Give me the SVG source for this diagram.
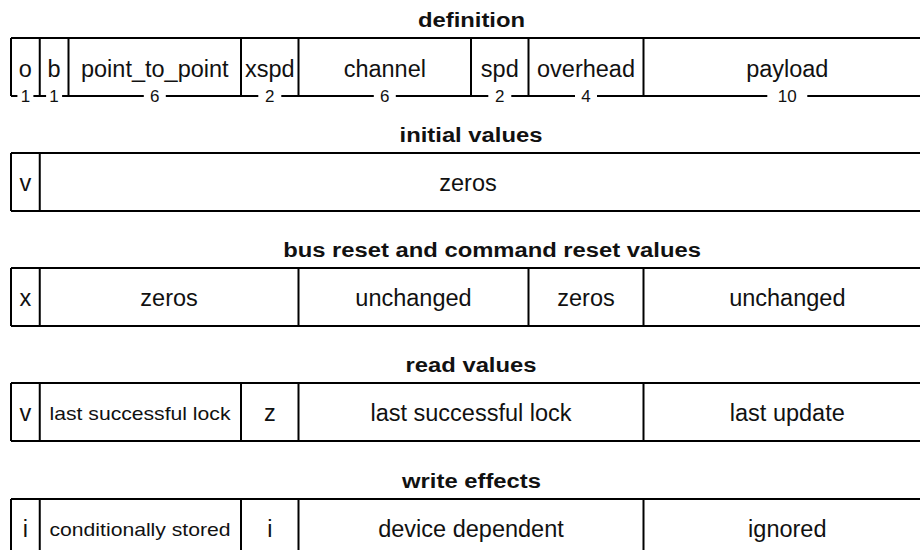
<svg xmlns="http://www.w3.org/2000/svg" width="920" height="550" viewBox="0 0 920 550">
<style>
.ln{stroke:#000;stroke-width:2;fill:none}
.t{font-family:"Liberation Sans",Arial,sans-serif;font-size:23.5px;text-anchor:middle;fill:#111}
.s{font-family:"Liberation Sans",Arial,sans-serif;font-size:18.5px;text-anchor:middle;fill:#111}
.h{font-family:"Liberation Sans",Arial,sans-serif;font-size:20px;font-weight:bold;text-anchor:middle;fill:#111}
.n{font-family:"Liberation Sans",Arial,sans-serif;font-size:17px;text-anchor:middle;fill:#111}
</style>
<rect width="920" height="550" fill="#fff"/>
<g id="definition">
<text class="h" transform="translate(471.5,27) scale(1.19,1)">definition</text>
<path class="ln" d="M11,38 H931 M11,38 V96 M39.75,38 V96 M68.5,38 V96 M241,38 V96 M298.5,38 V96 M471,38 V96 M528.5,38 V96 M643.5,38 V96"/>
<path class="ln" d="M11,96 H17.4 M33.4,96 H46.1 M62.1,96 H143.8 M165.8,96 H258.3 M281.3,96 H373.8 M395.8,96 H488.3 M511.3,96 H575 M597,96 H767.3 M807.3,96 H931"/>
<text class="t" x="25.4" y="77">o</text>
<text class="t" x="54.1" y="77">b</text>
<text class="t" x="154.8" y="77">point_to_point</text>
<text class="t" x="269.8" y="77">xspd</text>
<text class="t" x="384.8" y="77">channel</text>
<text class="t" x="499.8" y="77">spd</text>
<text class="t" x="586" y="77">overhead</text>
<text class="t" x="787.3" y="77">payload</text>
<text class="n" x="25.4" y="102">1</text>
<text class="n" x="54.1" y="102">1</text>
<text class="n" x="154.8" y="102">6</text>
<text class="n" x="269.8" y="102">2</text>
<text class="n" x="384.8" y="102">6</text>
<text class="n" x="499.8" y="102">2</text>
<text class="n" x="586" y="102">4</text>
<text class="n" x="787.3" y="102">10</text>
</g>
<g id="initial">
<text class="h" transform="translate(471,142) scale(1.19,1)">initial values</text>
<path class="ln" d="M11,153 H931 M11,211 H931 M11,153 V211 M39.75,153 V211"/>
<text class="t" x="25.4" y="191">v</text>
<text class="t" x="468" y="191">zeros</text>
</g>
<g id="busreset">
<text class="h" transform="translate(492,257) scale(1.19,1)">bus reset and command reset values</text>
<path class="ln" d="M11,268 H931 M11,326 H931 M11,268 V326 M39.75,268 V326 M298.5,268 V326 M528.5,268 V326 M643.5,268 V326"/>
<text class="t" x="25.4" y="306">x</text>
<text class="t" x="169.1" y="306">zeros</text>
<text class="t" x="413.5" y="306">unchanged</text>
<text class="t" x="586" y="306">zeros</text>
<text class="t" x="787.3" y="306">unchanged</text>
</g>
<g id="read">
<text class="h" transform="translate(471,372) scale(1.19,1)">read values</text>
<path class="ln" d="M11,383 H931 M11,441 H931 M11,383 V441 M39.75,383 V441 M241,383 V441 M298.5,383 V441 M643.5,383 V441"/>
<text class="t" x="25.4" y="421">v</text>
<text class="s" transform="translate(140,420) scale(1.143,1)">last successful lock</text>
<text class="t" x="269.8" y="421">z</text>
<text class="t" x="471" y="421">last successful lock</text>
<text class="t" x="787.3" y="421">last update</text>
</g>
<g id="write">
<text class="h" transform="translate(471.5,488) scale(1.19,1)">write effects</text>
<path class="ln" d="M11,499 H931 M11,557 H931 M11,499 V557 M39.75,499 V557 M241,499 V557 M298.5,499 V557 M643.5,499 V557"/>
<text class="t" x="25.4" y="537">i</text>
<text class="s" transform="translate(140,536) scale(1.143,1)">conditionally stored</text>
<text class="t" x="269.8" y="537">i</text>
<text class="t" x="471" y="537">device dependent</text>
<text class="t" x="787.3" y="537">ignored</text>
</g>
</svg>
